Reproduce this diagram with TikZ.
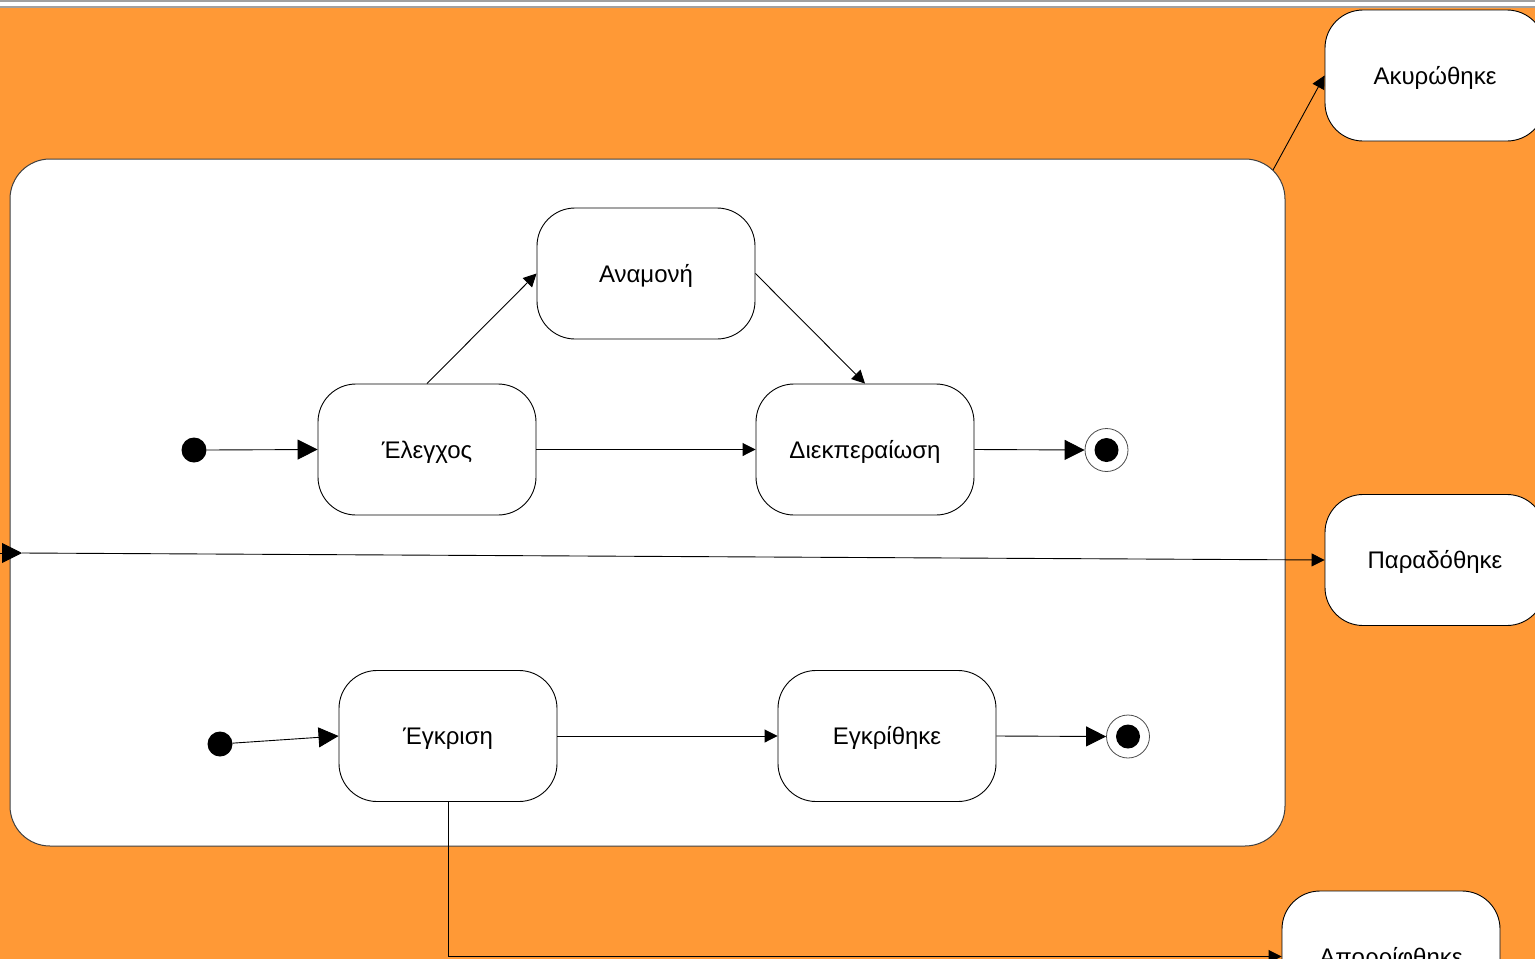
\documentclass[tikz,border=0pt]{standalone}
\usepackage{fontspec}
\setmainfont{Liberation Sans}
\usetikzlibrary{arrows.meta}
\definecolor{bgorange}{RGB}{255,153,54}
\definecolor{rulegray}{RGB}{160,160,160}
\tikzset{
  state/.style={draw=black, line width=0.9pt, fill=white, rounded corners=38pt,
    minimum width=218pt, minimum height=131pt, inner sep=0pt,
    text height=17pt, text depth=0pt, font=\fontsize{24}{28}\selectfont},
  bigarrow/.style={-{Triangle[length=20pt,width=20pt]}, line width=0.9pt},
  smallarrow/.style={-{Triangle[length=13pt,width=13pt]}, line width=0.9pt},
  initdot/.style={circle, fill=black, minimum size=25pt, inner sep=0pt},
  finalring/.style={circle, draw=black!70, line width=0.8pt, fill=white, minimum size=43pt, inner sep=0pt},
  finaldot/.style={circle, fill=black, minimum size=24pt, inner sep=0pt},
}
\begin{document}
\begin{tikzpicture}[x=1pt,y=-1pt]
\path[use as bounding box] (0,0) rectangle (1535,959);
\clip (0,0) rectangle (1535,959);
\fill[white] (0,0) rectangle (1535,959);
\fill[bgorange] (0,7) rectangle (1535,959);
\draw[rulegray, line width=1.5pt] (0,0.75) -- (1535,0.75);
\draw[rulegray, line width=1.5pt] (0,7) -- (1535,7);

% composite state
\node[draw=black!75, fill=white, line width=1pt, rounded corners=40pt,
  minimum width=1275pt, minimum height=687pt, inner sep=0pt] (cont) at (647.5,502.5) {};

% outer states
\node[state, minimum width=220pt] (canc) at (1435,75.5) {Ακυρώθηκε};
\node[state, minimum width=220pt] (deliv) at (1435,560) {Παραδόθηκε};
\node[state] (rej) at (1391,956.5) {Απορρίφθηκε};

% inner states
\node[state] (wait) at (646,273.5) {Αναμονή};
\node[state] (check) at (427,449.5) {Έλεγχος};
\node[state] (proc) at (865,449.5) {Διεκπεραίωση};
\node[state] (appr) at (448,736) {Έγκριση};
\node[state] (apprd) at (887,736) {Εγκρίθηκε};

% pseudo states
\node[initdot] (i1) at (194,450) {};
\node[finalring] (f1) at (1106.5,450) {};
\node[finaldot] (f1c) at (1106.5,450) {};
\node[initdot] (i2) at (220,744) {};
\node[finalring] (f2) at (1128,736.5) {};
\node[finaldot] (f2c) at (1128,736.5) {};

% transitions
\draw[bigarrow] (i1.east) -- (check.west);
\draw[smallarrow] (check.north) -- (wait.west);
\draw[smallarrow] (wait.east) -- (proc.north);
\draw[smallarrow] (check.east) -- (proc.west);
\draw[bigarrow] (proc.east) -- (f1.west);
\draw[bigarrow] (i2) -- (appr.west);
\draw[smallarrow] (appr.east) -- (apprd.west);
\draw[bigarrow] (apprd.east) -- (f2.west);

\coordinate (c1) at (1273,170);
\draw[smallarrow] (c1) -- (canc.west);
\coordinate (inL) at (-5,553);
\coordinate (inT) at (22,553);
\draw[bigarrow] (inL) -- (inT);
\draw[smallarrow] (inT) -- (deliv.west);
\draw[smallarrow] (appr.south) |- (rej.west);
\end{tikzpicture}
\end{document}
